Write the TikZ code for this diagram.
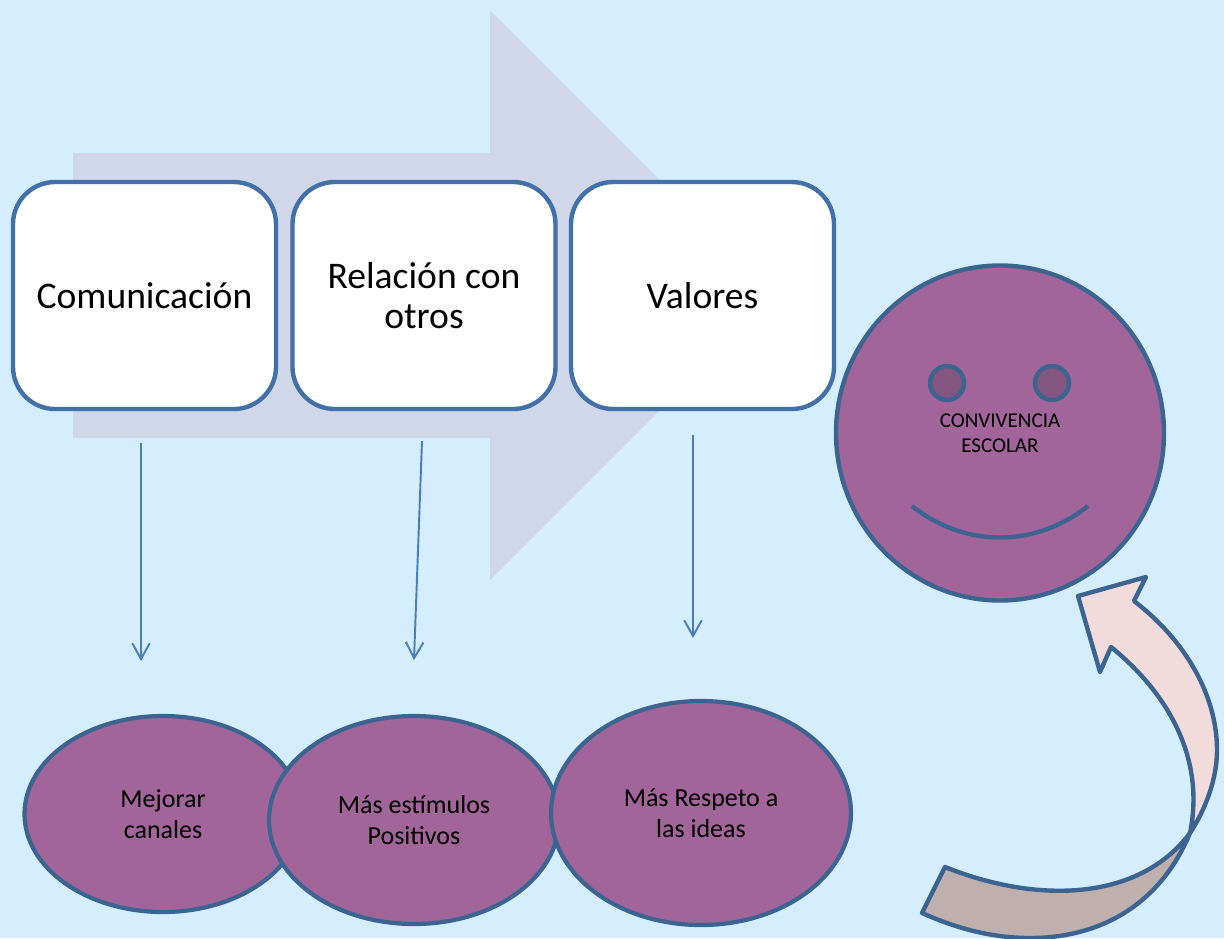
\documentclass[tikz,border=0pt]{standalone}
\usepackage{fontspec}
\setmainfont{Carlito}
\usetikzlibrary{shapes,arrows.meta,positioning}
\definecolor{bgblue}{HTML}{D5EEFF}
\definecolor{bigarrow}{HTML}{CFD7E8}
\definecolor{purplefill}{HTML}{A2659A}
\definecolor{eyefill}{HTML}{85567F}
\definecolor{edgeblue}{HTML}{3B6491}
\definecolor{boxblue}{HTML}{4270A8}
\definecolor{lineblue}{HTML}{4A7EBB}
\definecolor{curvepink}{HTML}{F2DCDB}
\definecolor{curvebrown}{HTML}{C0B0AD}
\tikzset{
  topbox/.style={draw=boxblue,line width=2.5pt,fill=white,rounded corners=24pt,
    minimum width=263*0.02cm,minimum height=227*0.02cm,inner sep=0pt,align=center,
    font=\fontsize{21.4}{23.2}\selectfont},
  bubble/.style={ellipse,draw=edgeblue,line width=2.4pt,fill=purplefill,inner sep=0pt,align=center,
    font=\fontsize{14.8}{17.6}\selectfont},
  eye/.style={circle,draw=edgeblue,line width=2.5pt,fill=eyefill,minimum size=34*0.02cm,inner sep=0pt},
  downline/.style={draw=lineblue,line width=1.1pt,-{Straight Barb[length=9pt,width=10pt]}},
  curve/.style={draw=edgeblue,line width=2.5pt,line join=round}
}
\begin{document}
\begin{tikzpicture}[x=0.02cm,y=-0.02cm]
  \useasboundingbox[fill=bgblue] (0,0) rectangle (1224,938);

  % big arrow behind the boxes
  \fill[bigarrow] (73,153) -- (490,153) -- (490,10) -- (775,295) -- (490,580)
    -- (490,438) -- (73,438) -- cycle;

  \node[topbox] (comunicacion) at (144.5,295.5) {Comunicación};
  \node[topbox] (relacion) at (424,295.5) {Relación con\\otros};
  \node[topbox] (valores) at (702.5,295.5) {Valores};

  \node[bubble,minimum width=277*0.02cm,minimum height=196*0.02cm] (mejorar) at (163,814) {Mejorar\\canales};
  \node[bubble,minimum width=290*0.02cm,minimum height=208*0.02cm] (estimulos) at (414,820) {Más estímulos\\Positivos};
  \node[bubble,minimum width=300*0.02cm,minimum height=224*0.02cm] (respeto) at (701,813) {Más Respeto a\\las ideas};

  % arrows do not touch the shapes
  \coordinate (a1) at (141,443);
  \coordinate (b1) at (141,661);
  \coordinate (a2) at (422,441);
  \coordinate (b2) at (414,660);
  \coordinate (a3) at (693,435);
  \coordinate (b3) at (693,638);
  \draw[downline] (a1) -- (b1);
  \draw[downline] (a2) -- (b2);
  \draw[downline] (a3) -- (b3);

  % face
  \node[bubble,line width=2.5pt,minimum width=328*0.02cm,minimum height=335*0.02cm,
    font=\fontsize{12}{14.2}\selectfont] (cara) at (1000,433) {CONVIVENCIA\\ESCOLAR};
  \node[eye] (ojoizq) at (947,383) {};
  \node[eye] (ojoder) at (1052,383) {};
  \coordinate (sonrisa1) at (912,506);
  \coordinate (sonrisa2) at (1088,506);
  \draw[edgeblue,line width=2.5pt] (sonrisa1) .. controls (965,548) and (1035,548) .. (sonrisa2);

  % curved arrow, back part first
  \draw[curve,fill=curvebrown] (1190,833) .. controls (1140,900) and (1040,905) .. (945,867)
    -- (922,913) .. controls (960,930) and (995,938) .. (1030,938)
    .. controls (1100,938) and (1160,905) .. (1190,833) -- cycle;
  \draw[curve,fill=curvepink] (1190,833) .. controls (1205,760) and (1170,695) .. (1111,647)
    -- (1100,672) -- (1078,596) -- (1146,577) -- (1134,601)
    .. controls (1185,640) and (1217,695) .. (1217,750)
    .. controls (1217,780) and (1205,810) .. (1190,833) -- cycle;
\end{tikzpicture}
\end{document}
